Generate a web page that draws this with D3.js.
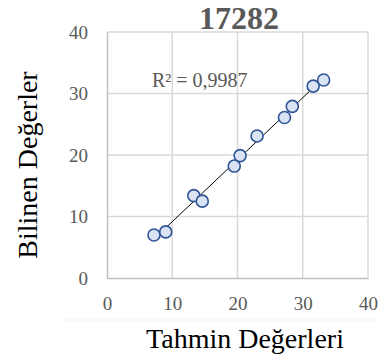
<!DOCTYPE html>
<html>
<head>
<meta charset="utf-8">
<script src="https://cdn.jsdelivr.net/npm/d3@7"></script>
<style>
  body { margin: 0; background: #fff; }
  text { font-family: "Liberation Serif", "Times New Roman", serif; }
</style>
</head>
<body>
<script>
const width = 380;
const height = 362;
const margin = { top: 32, right: 12, bottom: 84, left: 107 };

// data
const tahmin = [7.2, 9.0, 13.3, 14.6, 19.5, 20.4, 23.0, 27.2, 28.4, 31.6, 33.2];
const bilinen = [7.0, 7.5, 13.4, 12.5, 18.2, 19.9, 23.1, 26.1, 27.9, 31.2, 32.2];
const ticks = [0, 10, 20, 30, 40];
const title = "17282";
const r2Label = "R² = 0,9987";

const svg = d3.select("body")
    .append("svg")
    .attr("width", width)
    .attr("height", height);

const xScale = d3.scaleLinear()
    .domain([0, 40])
    .range([margin.left, width - margin.right]);
const yScale = d3.scaleLinear()
    .domain([0, 40])
    .range([height - margin.bottom, margin.top]);

// gridlines
svg.append("g")
    .selectAll("line")
    .data(ticks.slice(1))
    .enter()
    .append("line")
    .attr("x1", d => xScale(d)).attr("x2", d => xScale(d))
    .attr("y1", yScale(0)).attr("y2", yScale(40))
    .attr("stroke", "#d9d9d9").attr("stroke-width", 1.5);
svg.append("g")
    .selectAll("line")
    .data(ticks.slice(1))
    .enter()
    .append("line")
    .attr("x1", xScale(0)).attr("x2", xScale(40))
    .attr("y1", d => yScale(d)).attr("y2", d => yScale(d))
    .attr("stroke", "#d9d9d9").attr("stroke-width", 1.5);

// axes
let xAxis = d3.axisBottom(xScale).tickValues(ticks).tickSize(0).tickPadding(19);
let yAxis = d3.axisLeft(yScale).tickValues(ticks).tickSize(0).tickPadding(19);

svg.append("g")
    .attr("transform", `translate(0, ${yScale(0)})`)
    .call(xAxis)
    .call(g => g.select(".domain").attr("stroke", "#bfbfbf").attr("stroke-width", 1.5))
    .call(g => g.selectAll("text").attr("font-size", 19).attr("fill", "#595959")
        .attr("font-family", "Liberation Serif"));

svg.append("g")
    .attr("transform", `translate(${xScale(0)}, 0)`)
    .call(yAxis)
    .call(g => g.select(".domain").attr("stroke", "#bfbfbf").attr("stroke-width", 1.5))
    .call(g => g.selectAll("text").attr("font-size", 19).attr("fill", "#595959")
        .attr("font-family", "Liberation Serif"));

// faint chart-area border below the ticks
svg.append("line")
    .attr("x1", 62).attr("x2", width)
    .attr("y1", 320).attr("y2", 320)
    .attr("stroke", "#f3f3f3");

// linear trendline
const pts = tahmin.map((x, i) => [x, bilinen[i]]);
const mx = d3.mean(tahmin), my = d3.mean(bilinen);
const slope = d3.sum(pts, p => (p[0] - mx) * (p[1] - my)) / d3.sum(pts, p => (p[0] - mx) ** 2);
const icpt = my - slope * mx;
const [xmin, xmax] = d3.extent(tahmin);

svg.append("line")
    .attr("x1", xScale(xmin)).attr("y1", yScale(icpt + slope * xmin))
    .attr("x2", xScale(xmax)).attr("y2", yScale(icpt + slope * xmax))
    .attr("stroke", "#000").attr("stroke-width", 1);

// points
svg.selectAll("circle")
    .data(pts)
    .enter()
    .append("circle")
    .attr("cx", d => xScale(d[0]))
    .attr("cy", d => yScale(d[1]))
    .attr("r", 6)
    .attr("fill", "#dae3f3")
    .attr("stroke", "#2f5597")
    .attr("stroke-width", 1.6);

// texts
svg.append("text")
    .attr("x", 239).attr("y", 29)
    .attr("text-anchor", "middle")
    .attr("font-size", 32).attr("font-weight", "bold")
    .attr("fill", "#595959")
    .text(title);

svg.append("text")
    .attr("x", 152).attr("y", 87)
    .attr("font-size", 20)
    .attr("fill", "#595959")
    .text(r2Label);

svg.append("text")
    .attr("x", 245).attr("y", 348)
    .attr("text-anchor", "middle")
    .attr("font-size", 28)
    .attr("fill", "#000")
    .text("Tahmin Değerleri");

svg.append("text")
    .attr("transform", "translate(37, 165) rotate(-90)")
    .attr("text-anchor", "middle")
    .attr("font-size", 28)
    .attr("fill", "#000")
    .text("Bilinen Değerler");
</script>
</body>
</html>
